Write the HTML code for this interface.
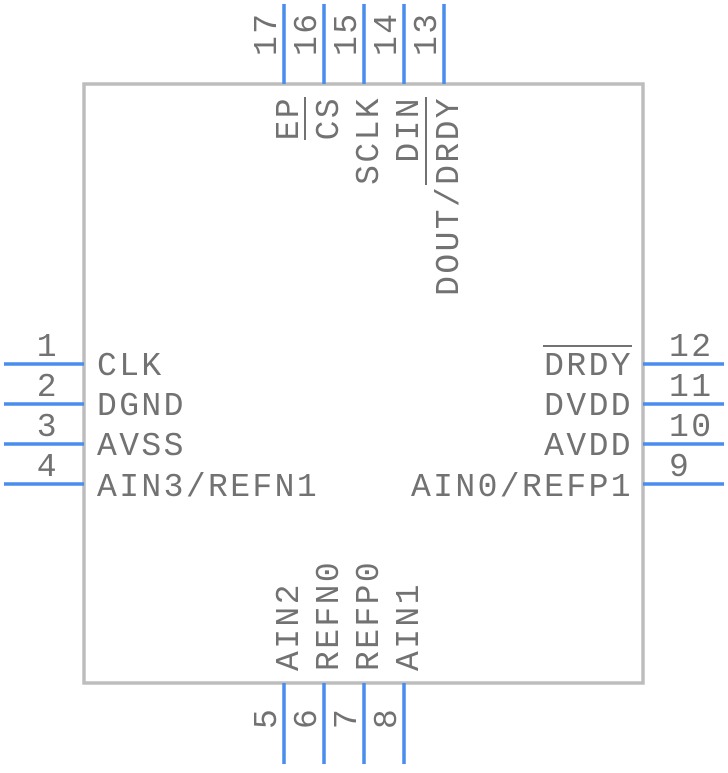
<!DOCTYPE html>
<html><head><meta charset="utf-8"><style>html,body{margin:0;padding:0;background:#fff}</style></head><body>
<svg width="728" height="768" viewBox="0 0 728 768" xmlns="http://www.w3.org/2000/svg" font-family="Liberation Mono, monospace" font-size="33" fill="#727272" letter-spacing="2.4">
<rect x="84" y="84" width="559" height="599" fill="none" stroke="#bdbdbd" stroke-width="3.5"/>
<g stroke="#4a8cf0" stroke-width="3.5">
<line x1="4" y1="364" x2="84" y2="364"/><line x1="4" y1="404" x2="84" y2="404"/><line x1="4" y1="444" x2="84" y2="444"/><line x1="4" y1="484" x2="84" y2="484"/>
<line x1="643" y1="364" x2="724" y2="364"/><line x1="643" y1="404" x2="724" y2="404"/><line x1="643" y1="444" x2="724" y2="444"/><line x1="643" y1="484" x2="724" y2="484"/>
<line x1="284" y1="4" x2="284" y2="84"/><line x1="324" y1="4" x2="324" y2="84"/><line x1="364" y1="4" x2="364" y2="84"/><line x1="404" y1="4" x2="404" y2="84"/><line x1="444" y1="4" x2="444" y2="84"/>
<line x1="284" y1="683" x2="284" y2="764"/><line x1="324" y1="683" x2="324" y2="764"/><line x1="364" y1="683" x2="364" y2="764"/><line x1="404" y1="683" x2="404" y2="764"/>
</g>
<!-- left -->
<g text-anchor="end"><text x="59" y="356">1</text><text x="59" y="396">2</text><text x="59" y="436">3</text><text x="59" y="476">4</text></g>
<text x="97" y="375">CLK</text><text x="97" y="415">DGND</text><text x="97" y="455">AVSS</text><text x="97" y="496">AIN3/REFN1</text>
<!-- right -->
<text x="669" y="356">12</text><text x="669" y="396">11</text><text x="669" y="436">10</text><text x="669" y="476">9</text>
<g text-anchor="end"><text x="633" y="375">DRDY</text><text x="633" y="415">DVDD</text><text x="633" y="455">AVDD</text><text x="633" y="496">AIN0/REFP1</text></g>
<line x1="543" y1="346" x2="632" y2="346" stroke="#727272" stroke-width="2"/>
<!-- top -->
<text transform="translate(276,56) rotate(-90)">17</text>
<text transform="translate(316,56) rotate(-90)">16</text>
<text transform="translate(356,56) rotate(-90)">15</text>
<text transform="translate(396,56) rotate(-90)">14</text>
<text transform="translate(436,56) rotate(-90)">13</text>
<g text-anchor="end">
<text transform="translate(298,96) rotate(-90)">EP</text>
<text transform="translate(338,96) rotate(-90)">CS</text>
<text transform="translate(378,96) rotate(-90)">SCLK</text>
<text transform="translate(418,96) rotate(-90)">DIN</text>
<text transform="translate(458,96) rotate(-90)">DOUT/DRDY</text>
</g>
<line x1="305" y1="97" x2="305" y2="140" stroke="#727272" stroke-width="2"/>
<line x1="426" y1="97" x2="426" y2="185" stroke="#727272" stroke-width="2"/>
<!-- bottom -->
<text transform="translate(276,729) rotate(-90)">5</text>
<text transform="translate(316,729) rotate(-90)">6</text>
<text transform="translate(356,729) rotate(-90)">7</text>
<text transform="translate(396,729) rotate(-90)">8</text>
<text transform="translate(298,671) rotate(-90)">AIN2</text>
<text transform="translate(338,671) rotate(-90)">REFN0</text>
<text transform="translate(378,671) rotate(-90)">REFP0</text>
<text transform="translate(418,671) rotate(-90)">AIN1</text>
</svg>
</body></html>
